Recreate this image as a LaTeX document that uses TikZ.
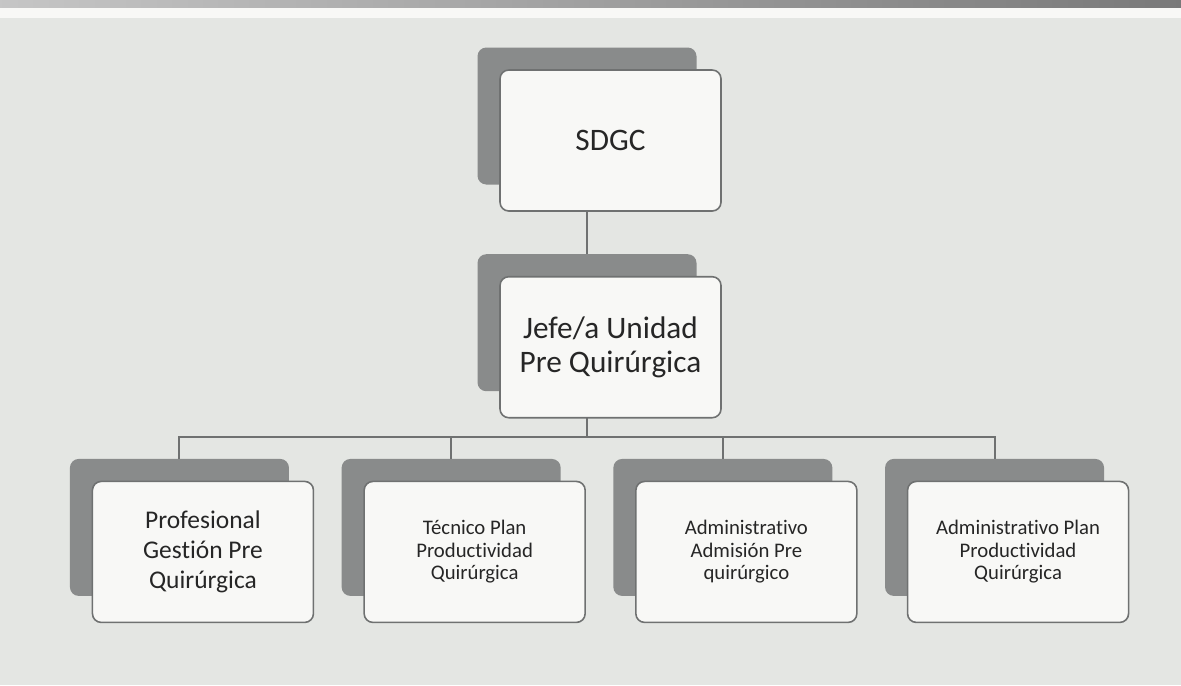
\documentclass[tikz,border=0pt]{standalone}
\usepackage{fontspec}
\setmainfont{Carlito}[Ligatures=NoCommon]
\usetikzlibrary{positioning}
\definecolor{paper}{HTML}{E4E6E3}
\definecolor{cardgrey}{HTML}{898B8B}
\definecolor{edgegrey}{HTML}{6F7171}
\definecolor{cardwhite}{HTML}{F8F8F6}
\definecolor{inkgrey}{HTML}{262626}

\begin{document}
\begin{tikzpicture}[node distance=1.38cm and 1.04cm,
        back/.style={fill=cardgrey, rounded corners=5pt, inner sep=0pt, minimum width=4.38cm, minimum height=2.74cm},
        front/.style={draw=edgegrey, line width=0.9pt, fill=cardwhite, rounded corners=5pt, align=center, text=inkgrey,
                      inner sep=2pt, minimum width=4.42cm, minimum height=2.82cm},
        big/.style={font=\fontsize{17.8}{19.5}\selectfont},
        mid/.style={font=\fontsize{14.5}{17}\selectfont},
        small/.style={font=\fontsize{11.8}{12.8}\selectfont},
        conn/.style={draw=edgegrey, line width=1.1pt}]
        % page and the dark strip along its top edge
        \fill[paper] (0,0) rectangle (23.62,-13.70);
        \fill[cardwhite] (0,-0.14) rectangle (23.62,-0.36);
        \shade[left color=gray!45, right color=gray!95!black] (0,0) rectangle (23.62,-0.14);
        \useasboundingbox (0,0) rectangle (23.62,-13.70);

        % grey back cards
        \node (sdgc) [back] at (11.74,-2.32) {};
        \node (jefe) [back, below = of sdgc] {};
        \node (adm) [back, below right = 1.34cm and 0.52cm of jefe.south] {};
        \node (tec) [back, left = of adm] {};
        \node (prof) [back, left = of tec] {};
        \node (adp) [back, right = of adm] {};

        \coordinate (bar) at ([yshift=-0.9cm]jefe.south);

        \draw[conn] (sdgc.south) -- (jefe.north);
        \draw[conn] (jefe.south) -- (bar);
        \draw[conn] (bar) -| (prof.north);
        \draw[conn] (bar) -| (tec.north);
        \draw[conn] (bar) -| (adm.north);
        \draw[conn] (bar) -| (adp.north);

        % white cards with the names
        \node (sdgc-t) [front, big] at ([shift={(0.47,-0.49)}]sdgc.center) {SDGC};
        \node (jefe-t) [front, big] at ([shift={(0.47,-0.49)}]jefe.center) {Jefe/a Unidad\\Pre Quirúrgica};
        \node (prof-t) [front, mid] at ([shift={(0.47,-0.49)}]prof.center) {Profesional\\Gestión Pre\\Quirúrgica};
        \node (tec-t) [front, small] at ([shift={(0.47,-0.49)}]tec.center) {Técnico Plan\\Productividad\\Quirúrgica};
        \node (adm-t) [front, small] at ([shift={(0.47,-0.49)}]adm.center) {Administrativo\\Admisión Pre\\quirúrgico};
        \node (adp-t) [front, small] at ([shift={(0.47,-0.49)}]adp.center) {Administrativo Plan\\Productividad\\Quirúrgica};
    \end{tikzpicture}
\end{document}
